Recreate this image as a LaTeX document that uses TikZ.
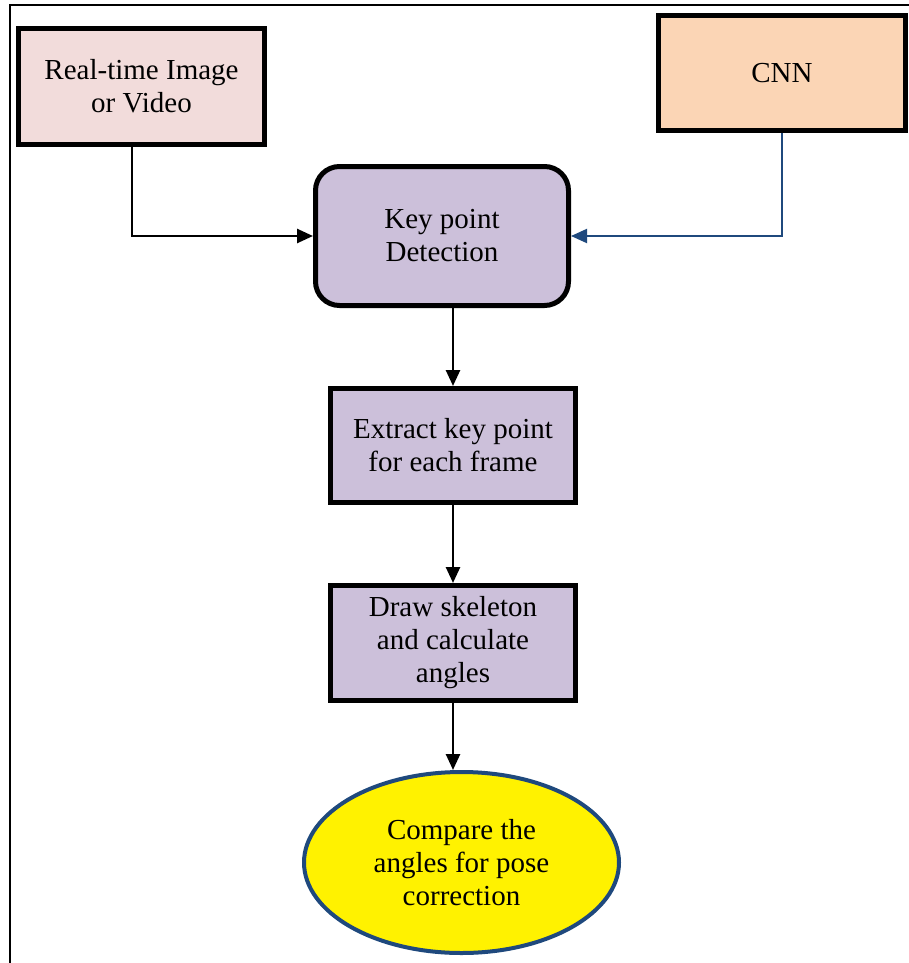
\documentclass[tikz,border=0pt]{standalone}
\usepackage{fontspec}
\setmainfont{Liberation Serif}
\usetikzlibrary{shapes.geometric,arrows.meta}

\definecolor{pinkfill}{HTML}{F2DCDB}
\definecolor{peachfill}{HTML}{FBD5B5}
\definecolor{lilacfill}{HTML}{CCC0DA}
\definecolor{darkblue}{HTML}{1F497D}

\tikzset{
  stepbox/.style={draw=black, line width=2.5pt, align=center, inner sep=0pt,
    font=\fontsize{14.5}{16.5}\selectfont},
  flow/.style={line width=1.3pt, -{Triangle[length=8pt,width=7pt]}}
}

\begin{document}
\begin{tikzpicture}[x=0.5pt,y=-0.5pt]
\useasboundingbox (0,0) rectangle (909,963);

%% frame
\draw [line width=1pt] (10,963) -- (10,5) -- (909,5); % outer frame

%% boxes
\node [stepbox, fill=pinkfill, minimum width=123pt, minimum height=58pt] (rt) at (141.5,86.5) {Real-time Image\\or Video}; % input
\node [stepbox, fill=peachfill, minimum width=123.5pt, minimum height=57.5pt] (cnn) at (782,73) {CNN}; % network
\node [stepbox, fill=lilacfill, rounded corners=12pt, minimum width=126.5pt, minimum height=69.5pt] (kp) at (442,236) {Key point\\Detection}; % detection
\node [stepbox, fill=lilacfill, minimum width=122.5pt, minimum height=57pt] (ex) at (453,445.5) {Extract key point\\for each frame}; % extraction
\node [stepbox, fill=lilacfill, minimum width=122.5pt, minimum height=57.5pt] (dr) at (453,643) {Draw skeleton\\and calculate\\angles}; % skeleton
\node [stepbox, ellipse, draw=darkblue, line width=2pt, fill=yellow, minimum width=157.5pt, minimum height=90.5pt] (cmp) at (461.5,862.5) {Compare the\\angles for pose\\correction}; % comparison

%% connectors
\draw [flow] ([xshift=-4.75pt]rt.south) |- (kp.west); % from input to detection
\draw [flow, darkblue, line width=1pt] (cnn.south) |- (kp.east); % from CNN to detection
\draw [flow] (kp.south -| ex.north) -- (ex.north); % to extraction
\draw [flow] (ex.south) -- (dr.north); % to skeleton
\draw [flow] (dr.south) -- (dr.south |- cmp.north); % to comparison

\end{tikzpicture}
\end{document}
